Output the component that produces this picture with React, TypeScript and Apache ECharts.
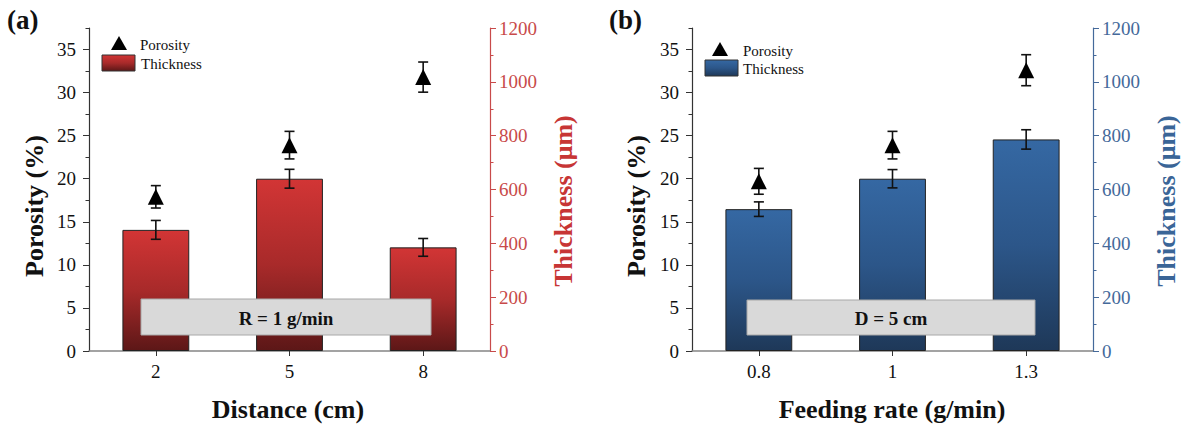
import React, { useEffect, useRef } from "react";
import * as echarts from "echarts";

// Panel (a): distance
const distCats = ["2", "5", "8"];
const distThickness = [450, 640, 385];
const distThicknessErr = [35, 35, 33];
const distPorosity = [17.9, 23.9, 31.8];
const distPorosityErr = [1.3, 1.6, 1.75];

// Panel (b): feeding rate
const rateCats = ["0.8", "1", "1.3"];
const rateThickness = [527, 640, 786];
const rateThicknessErr = [27, 34, 36];
const ratePorosity = [19.7, 23.9, 32.6];
const ratePorosityErr = [1.5, 1.6, 1.8];

// Axis ticks
const porMajorTicks = [0, 5, 10, 15, 20, 25, 30, 35];
const porMinorTicks = [2.5, 7.5, 12.5, 17.5, 22.5, 27.5, 32.5, 37.5];

const FONT = "Liberation Serif";

const RED_AXIS = "#c84a4a";
const RED_TITLE = "#c73535";
const BLUE_AXIS = "#44699a";
const BLUE_TITLE = "#3a6597";

const redGrad = () =>
  new echarts.graphic.LinearGradient(0, 0, 0, 1, [
    { offset: 0, color: "#d23535" },
    { offset: 0.5, color: "#a82a2a" },
    { offset: 1, color: "#5c1717" },
  ]);
const blueGrad = () =>
  new echarts.graphic.LinearGradient(0, 0, 0, 1, [
    { offset: 0, color: "#3568a3" },
    { offset: 0.5, color: "#2c5689" },
    { offset: 1, color: "#1e3858" },
  ]);

const errRender = (capHalf: number) => (params: any, api: any) => {
  const x = api.value(0);
  const v = api.value(1);
  const e = api.value(2);
  const top = api.coord([x, v + e]);
  const bot = api.coord([x, v - e]);
  const style = { stroke: "#111", lineWidth: 1.6, fill: "none" };
  return {
    type: "group",
    children: [
      { type: "line", shape: { x1: top[0], y1: top[1], x2: bot[0], y2: bot[1] }, style },
      { type: "line", shape: { x1: top[0] - capHalf, y1: top[1], x2: top[0] + capHalf, y2: top[1] }, style },
      { type: "line", shape: { x1: bot[0] - capHalf, y1: bot[1], x2: bot[0] + capHalf, y2: bot[1] }, style },
    ],
  };
};

const grids = [
  { left: 89, top: 28, width: 401, height: 323 },
  { left: 692, top: 28, width: 401, height: 323 },
];

function buildAxes(p: number, cats: string[], axisColor: string) {
  const xAxis = {
    type: "category",
    gridIndex: p,
    data: cats,
    boundaryGap: true,
    axisLine: { show: true, lineStyle: { color: "#858585", width: 1.5 } },
    axisTick: { show: true, alignWithLabel: true, length: 5, lineStyle: { color: "#333", width: 1 } },
    axisLabel: { color: "#111", fontFamily: FONT, fontSize: 19, margin: 11 },
    splitLine: { show: false },
  };
  const yMain = {
    type: "value",
    gridIndex: p,
    position: "left",
    offset: 0,
    min: 0,
    max: 37.5,
    interval: 2.5,
    axisLine: { show: true, onZero: false, lineStyle: { color: "#333", width: 1.2 } },
    axisTick: { show: true, length: 6, customValues: porMajorTicks, lineStyle: { color: "#333" } },
    axisLabel: {
      color: "#111",
      fontFamily: FONT,
      fontSize: 19,
      margin: 13,
      showMinLabel: true,
      showMaxLabel: true,
      customValues: porMajorTicks,
      formatter: (v: number) => (v % 5 === 0 ? String(v) : ""),
    },
    splitLine: { show: false },
  };
  const yMinor = {
    type: "value",
    gridIndex: p,
    position: "left",
    offset: 0,
    min: 0,
    max: 37.5,
    interval: 2.5,
    axisLine: { show: false },
    axisTick: { show: true, length: 3.5, customValues: porMinorTicks, lineStyle: { color: "#333" } },
    axisLabel: { show: false },
    splitLine: { show: false },
  };
  const yRight = {
    type: "value",
    gridIndex: p,
    position: "right",
    offset: 0,
    min: 0,
    max: 1200,
    interval: 200,
    axisLine: { show: true, onZero: false, lineStyle: { color: axisColor, width: 1.2 } },
    axisTick: { show: true, length: 6, lineStyle: { color: axisColor } },
    minorTick: { show: true, splitNumber: 2, length: 3.5, lineStyle: { color: axisColor } },
    axisLabel: {
      color: axisColor,
      fontFamily: FONT,
      fontSize: 19,
      margin: 9,
      formatter: (v: number) => String(v),
    },
    splitLine: { show: false },
    minorSplitLine: { show: false },
  };
  return { xAxis, yAxes: [yMain, yMinor, yRight] };
}

function buildSeries(
  p: number,
  thickness: number[],
  thicknessErr: number[],
  porosity: number[],
  porosityErr: number[],
  grad: () => any
) {
  return [
    {
      type: "bar",
      name: "Thickness",
      xAxisIndex: p,
      yAxisIndex: p * 3 + 2,
      data: thickness,
      barWidth: "50%",
      itemStyle: { color: grad(), borderColor: "#222", borderWidth: 1 },
      z: 2,
    },
    {
      type: "custom",
      xAxisIndex: p,
      yAxisIndex: p * 3 + 2,
      renderItem: errRender(5),
      encode: { x: 0, y: 1 },
      data: thickness.map((v, i) => [i, v, thicknessErr[i]]),
      z: 3,
    },
    {
      type: "custom",
      xAxisIndex: p,
      yAxisIndex: p * 3,
      renderItem: errRender(5),
      encode: { x: 0, y: 1 },
      data: porosity.map((v, i) => [i, v, porosityErr[i]]),
      z: 4,
    },
    {
      type: "scatter",
      name: "Porosity",
      xAxisIndex: p,
      yAxisIndex: p * 3,
      data: porosity,
      symbol: "triangle",
      symbolSize: 16,
      itemStyle: { color: "#000", opacity: 1 },
      z: 5,
    },
  ];
}

function buildGraphics() {
  const txt = (x: number, y: number, text: string, size: number, opts: any = {}) => ({
    type: "text",
    x,
    y,
    z: 100,
    style: {
      text,
      fontFamily: FONT,
      fontSize: size,
      fill: opts.fill || "#111",
      fontWeight: opts.bold ? "bold" : "normal",
      align: opts.align || "left",
      verticalAlign: "middle",
    },
    rotation: opts.rotation || 0,
  });
  const tri = (cx: number, cy: number) => ({
    type: "polygon",
    z: 100,
    shape: { points: [[cx, cy - 8], [cx + 8, cy + 6], [cx - 8, cy + 6]] },
    style: { fill: "#000" },
  });
  const legendRect = (x: number, y: number, w: number, h: number, grad: () => any) => ({
    type: "rect",
    z: 100,
    shape: { x, y, width: w, height: h },
    style: { fill: grad(), stroke: "#333", lineWidth: 1 },
  });
  const box = (x: number, y: number, w: number, h: number, label: string) => [
    {
      type: "rect",
      z: 100,
      shape: { x, y, width: w, height: h },
      style: { fill: "#d9d9d9", stroke: "#a8a8a8", lineWidth: 1 },
    },
    txt(x + w / 2, y + h / 2 + 1, label, 19, { bold: true, align: "center" }),
  ];
  return [
    // panel labels
    txt(7, 20, "(a)", 27, { bold: true }),
    txt(609, 20, "(b)", 27, { bold: true }),
    // legends (a)
    tri(119, 44),
    txt(140, 45, "Porosity", 15),
    legendRect(102, 55, 33, 16, redGrad),
    txt(141, 64, "Thickness", 15),
    // legends (b)
    tri(720, 50),
    txt(743, 51, "Porosity", 15),
    legendRect(705, 60, 33, 16, blueGrad),
    txt(743, 69, "Thickness", 15),
    // annotation boxes
    ...box(141, 299, 290, 36, "R = 1 g/min"),
    ...box(747, 300, 288, 35, "D = 5 cm"),
    // axis titles (a)
    txt(34, 206, "Porosity (%)", 26, { bold: true, align: "center", rotation: Math.PI / 2 }),
    txt(563, 201, "Thickness (\u03bcm)", 26, { bold: true, align: "center", rotation: Math.PI / 2, fill: RED_TITLE }),
    txt(288, 409, "Distance (cm)", 26, { bold: true, align: "center" }),
    // axis titles (b)
    txt(636, 206, "Porosity (%)", 26, { bold: true, align: "center", rotation: Math.PI / 2 }),
    txt(1166, 201, "Thickness (\u03bcm)", 26, { bold: true, align: "center", rotation: Math.PI / 2, fill: BLUE_TITLE }),
    txt(892, 409, "Feeding rate (g/min)", 26, { bold: true, align: "center" }),
  ];
}

export default function App() {
  const ref = useRef<HTMLDivElement>(null);
  useEffect(() => {
    document.body.style.margin = "0";
    if (!ref.current) return;
    const chart = echarts.init(ref.current, undefined, { renderer: "svg" });
    const a = buildAxes(0, distCats, RED_AXIS);
    const b = buildAxes(1, rateCats, BLUE_AXIS);
    chart.setOption({
      animation: false,
      backgroundColor: "#fff",
      textStyle: { fontFamily: FONT },
      grid: grids,
      xAxis: [a.xAxis, b.xAxis],
      yAxis: [...a.yAxes, ...b.yAxes],
      series: [
        ...buildSeries(0, distThickness, distThicknessErr, distPorosity, distPorosityErr, redGrad),
        ...buildSeries(1, rateThickness, rateThicknessErr, ratePorosity, ratePorosityErr, blueGrad),
      ],
      graphic: buildGraphics(),
    });
    return () => chart.dispose();
  }, []);
  return <div ref={ref} style={{ width: 1182, height: 428 }} />;
}
